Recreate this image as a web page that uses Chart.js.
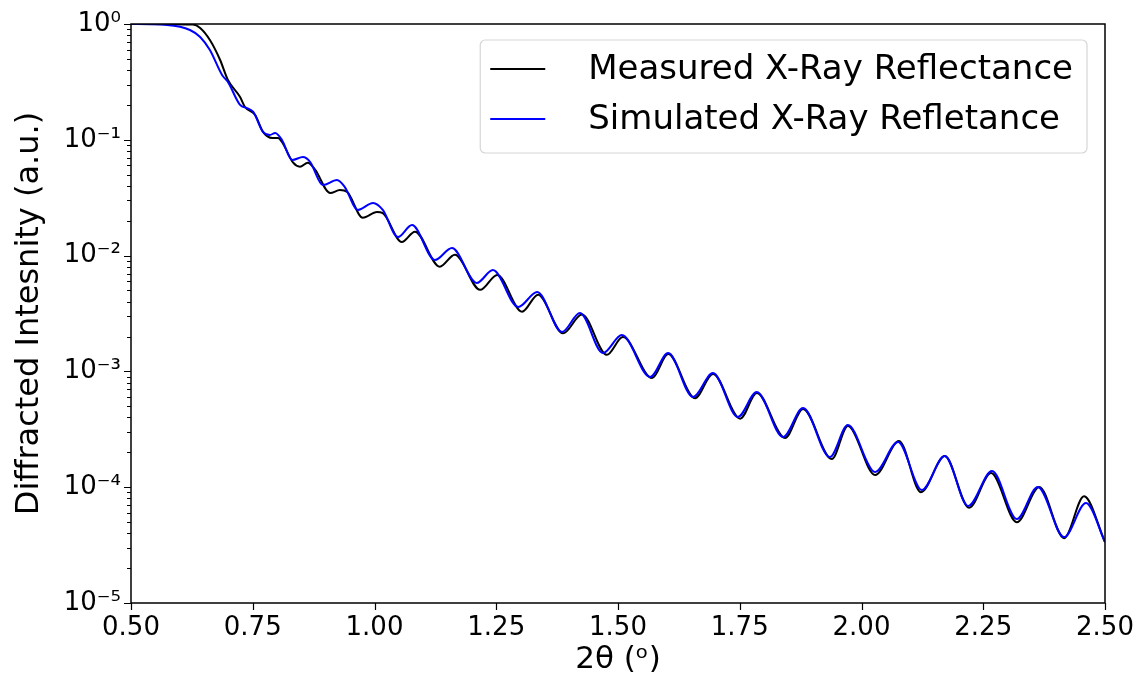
<!DOCTYPE html>
<html>
<head>
<meta charset="utf-8">
<script src="https://cdn.jsdelivr.net/npm/chart.js@4.4.1/dist/chart.umd.min.js"></script>
<style>
  html, body { margin: 0; padding: 0; background: #ffffff; }
  #wrap { width: 1140px; height: 684px; }
</style>
</head>
<body>
<div id="wrap"><canvas id="xrrChart" width="1140" height="684"></canvas></div>
<script>
// Valores (2θ em graus, intensidade normalizada)
const measuredX = [0.500, 0.627, 0.642, 0.662, 0.683, 0.699, 0.724, 0.734, 0.755, 0.771, 0.790, 0.802, 0.810, 0.833, 0.847, 0.863, 0.878, 0.909, 0.929, 0.944, 0.976, 1.005, 1.017, 1.056, 1.083, 1.134, 1.165, 1.217, 1.252, 1.303, 1.336, 1.387, 1.426, 1.477, 1.510, 1.570, 1.603, 1.658, 1.695, 1.751, 1.785, 1.843, 1.880, 1.939, 1.972, 2.028, 2.077, 2.122, 2.171, 2.221, 2.266, 2.319, 2.365, 2.416, 2.457, 2.500];
const measuredY = [1.0, 0.99, 0.923, 0.727, 0.489, 0.328, 0.234, 0.192, 0.1636, 0.117, 0.1036, 0.1036, 0.0957, 0.0634, 0.0586, 0.0634, 0.0552, 0.0347, 0.0368, 0.0354, 0.0212, 0.0238, 0.0233, 0.01311, 0.01609, 0.00802, 0.01017, 0.00506, 0.00681, 0.00328, 0.00460, 0.00213, 0.00310, 0.00139, 0.00198, 0.000876, 0.00141, 0.000587, 0.000951, 0.000391, 0.000652, 0.000266, 0.000474, 0.000175, 0.000338, 0.0001274, 0.000251, 0.0000904, 0.000186, 0.0000664, 0.0001323, 0.0000498, 0.0001004, 0.0000363, 0.0000834, 0.0000336];

const simulatedX = [0.500, 0.574, 0.621, 0.642, 0.662, 0.687, 0.699, 0.724, 0.738, 0.751, 0.771, 0.785, 0.796, 0.810, 0.831, 0.853, 0.868, 0.894, 0.923, 0.939, 0.966, 0.997, 1.017, 1.048, 1.077, 1.124, 1.159, 1.210, 1.243, 1.295, 1.334, 1.385, 1.422, 1.469, 1.508, 1.566, 1.603, 1.654, 1.695, 1.746, 1.785, 1.839, 1.880, 1.935, 1.972, 2.028, 2.075, 2.124, 2.171, 2.219, 2.268, 2.319, 2.362, 2.416, 2.461, 2.500];
const simulatedY = [1.0, 0.980, 0.888, 0.772, 0.596, 0.363, 0.316, 0.200, 0.188, 0.174, 0.117, 0.110, 0.1145, 0.0996, 0.0669, 0.0710, 0.0643, 0.0407, 0.0449, 0.0391, 0.0248, 0.0285, 0.0248, 0.01447, 0.01837, 0.00916, 0.01163, 0.00580, 0.00751, 0.00360, 0.00485, 0.00219, 0.00319, 0.00144, 0.00206, 0.000894, 0.00144, 0.000601, 0.000969, 0.000404, 0.000664, 0.000271, 0.000483, 0.000182, 0.000344, 0.0001353, 0.000246, 0.0000946, 0.000186, 0.0000688, 0.000138, 0.0000531, 0.0001004, 0.0000371, 0.0000730, 0.0000336];

const seriesLabels = ['Measured X-Ray Reflectance', 'Simulated X-Ray Refletance'];
const seriesColors = ['#000000', '#0000ff'];

const xTicks = [0.50, 0.75, 1.00, 1.25, 1.50, 1.75, 2.00, 2.25, 2.50];
const yExponents = [0, -1, -2, -3, -4, -5];
const yTickLabels = ['10⁰', '10⁻¹', '10⁻²', '10⁻³', '10⁻⁴', '10⁻⁵'];

const FONT = 'DejaVu Sans';

function toPoints(xs, ys) {
    return xs.map((x, i) => ({ x: x, y: ys[i] }));
}

// Moldura, ticks maiores/menores e legenda no estilo do matplotlib
const axesDecor = {
    id: 'axesDecor',
    afterDraw(chart) {
        const ctx = chart.ctx;
        const area = chart.chartArea;
        const xs = chart.scales.x;
        const ys = chart.scales.y;
        ctx.save();
        ctx.strokeStyle = '#000000';
        ctx.lineWidth = 1.5;
        ctx.strokeRect(area.left, area.top, area.right - area.left, area.bottom - area.top);

        ctx.lineWidth = 1.2;
        ctx.beginPath();
        xTicks.forEach(v => {
            const px = Math.round(xs.getPixelForValue(v)) + 0.5;
            ctx.moveTo(px, area.bottom);
            ctx.lineTo(px, area.bottom + 7);
        });
        yExponents.forEach(e => {
            const py = Math.round(ys.getPixelForValue(Math.pow(10, e))) + 0.5;
            ctx.moveTo(area.left, py);
            ctx.lineTo(area.left - 7, py);
            if (e < 0) {
                for (let k = 2; k <= 9; k++) {
                    const pm = Math.round(ys.getPixelForValue(k * Math.pow(10, e))) + 0.5;
                    ctx.moveTo(area.left, pm);
                    ctx.lineTo(area.left - 4, pm);
                }
            }
        });
        ctx.stroke();

        // Legenda
        ctx.font = '34px "' + FONT + '"';
        const textW = Math.max(...seriesLabels.map(t => ctx.measureText(t).width));
        const right = area.right - 18;
        const top = area.top + 16;
        const boxW = 10 + 55 + 43 + textW + 14;
        const boxH = 113;
        const left = right - boxW;
        ctx.beginPath();
        ctx.roundRect(left, top, boxW, boxH, 5);
        ctx.fillStyle = 'rgba(255,255,255,0.8)';
        ctx.fill();
        ctx.strokeStyle = '#d6d6d6';
        ctx.lineWidth = 1.2;
        ctx.stroke();
        ctx.textBaseline = 'middle';
        ctx.textAlign = 'left';
        seriesLabels.forEach((t, i) => {
            const y = top + 29 + i * 50;
            ctx.strokeStyle = seriesColors[i];
            ctx.lineWidth = 2;
            ctx.beginPath();
            ctx.moveTo(left + 10, y);
            ctx.lineTo(left + 65, y);
            ctx.stroke();
            ctx.fillStyle = '#000000';
            ctx.fillText(t, left + 108, y + 1);
        });
        ctx.restore();
    }
};

const ctx = document.getElementById('xrrChart').getContext('2d');
new Chart(ctx, {
    type: 'line',
    data: {
        datasets: [{
            label: seriesLabels[0],
            data: toPoints(measuredX, measuredY),
            borderColor: seriesColors[0],
            borderWidth: 2,
            pointRadius: 0,
            cubicInterpolationMode: 'monotone',
            order: 2
        }, {
            label: seriesLabels[1],
            data: toPoints(simulatedX, simulatedY),
            borderColor: seriesColors[1],
            borderWidth: 2,
            pointRadius: 0,
            cubicInterpolationMode: 'monotone',
            order: 1
        }]
    },
    options: {
        responsive: false,
        animation: false,
        layout: { padding: { top: 24, right: 35, left: 0, bottom: 0 } },
        plugins: {
            legend: { display: false },
            tooltip: { enabled: false }
        },
        scales: {
            x: {
                type: 'linear',
                min: 0.5,
                max: 2.5,
                afterBuildTicks: scale => { scale.ticks = xTicks.map(v => ({ value: v })); },
                afterFit: scale => {
                    scale.height = 81;
                    scale.paddingLeft = 0;
                    scale.paddingRight = 0;
                },
                ticks: {
                    autoSkip: false,
                    maxRotation: 0,
                    padding: 10,
                    color: '#000000',
                    font: { family: FONT, size: 26 },
                    callback: v => v.toFixed(2)
                },
                grid: { display: false, drawTicks: false },
                border: { display: false },
                title: {
                    display: true,
                    text: '2θ (ᵒ)',
                    color: '#000000',
                    font: { family: FONT, size: 31 },
                    padding: { top: 0, bottom: 5 }
                }
            },
            y: {
                type: 'logarithmic',
                min: 1e-5,
                max: 1,
                afterBuildTicks: scale => { scale.ticks = yExponents.map(e => ({ value: Math.pow(10, e) })); },
                afterFit: scale => {
                    scale.width = 131;
                    scale.paddingTop = 0;
                    scale.paddingBottom = 0;
                },
                ticks: {
                    autoSkip: false,
                    padding: 10,
                    color: '#000000',
                    font: { family: FONT, size: 26 },
                    callback: function (v) {
                        const e = Math.round(Math.log10(v));
                        const i = yExponents.indexOf(e);
                        return i >= 0 ? yTickLabels[i] : '';
                    }
                },
                grid: { display: false, drawTicks: false },
                border: { display: false },
                title: {
                    display: true,
                    text: 'Diffracted Intesnity (a.u.)',
                    color: '#000000',
                    font: { family: FONT, size: 32 },
                    padding: { top: 10, bottom: 0 }
                }
            }
        }
    },
    plugins: [axesDecor]
});
</script>
</body>
</html>
